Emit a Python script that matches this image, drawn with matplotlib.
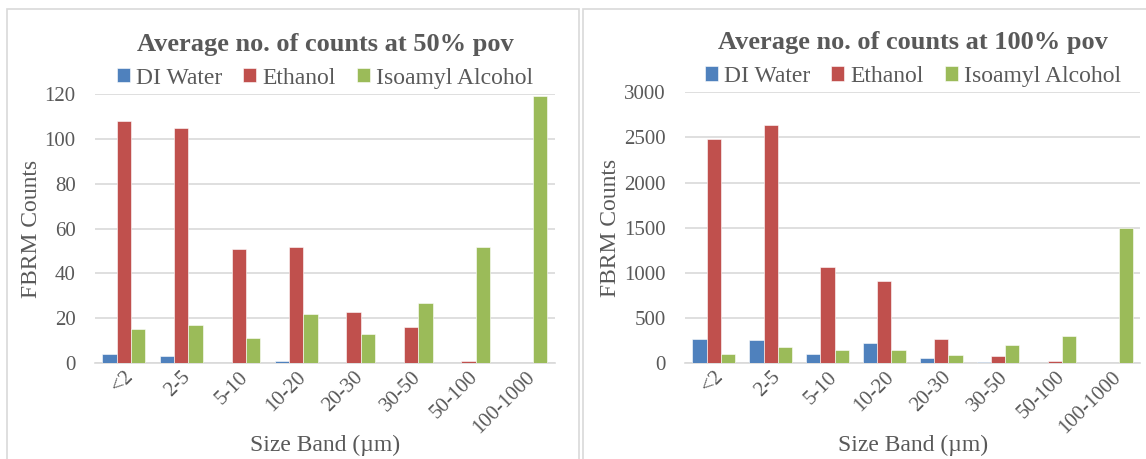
import matplotlib.pyplot as plt
import numpy as np
from matplotlib.patches import Rectangle

plt.rcParams['font.family'] = ['Liberation Serif', 'DejaVu Serif']

bands = ['<2', '2-5', '5-10', '10-20', '20-30', '30-50', '50-100', '100-1000']
series = ['DI Water', 'Ethanol', 'Isoamyl Alcohol']
COLORS = ['#4F81BD', '#C0504D', '#9BBB59']

# 50% pov
di_50 = [4, 3, 0, 1, 0, 0, 0, 0]
eth_50 = [108, 105, 51, 52, 23, 16, 1, 0]
iso_50 = [15, 17, 11, 22, 13, 27, 52, 119]

# 100% pov
di_100 = [263, 258, 105, 221, 52, 7, 0, 0]
eth_100 = [2480, 2640, 1065, 910, 271, 79, 18, 5]
iso_100 = [105, 180, 142, 150, 94, 195, 297, 1500]

TXT = '#595959'
GRID = '#D9D9D9'


def draw_panel(ax, data, title, ymax, ystep):
    x = np.arange(len(bands))
    w = 0.25
    for i, vals in enumerate(data):
        ax.bar(x + (i - 1) * w, vals, w, color=COLORS[i], edgecolor='white',
               linewidth=0.4, label=series[i], zorder=3)
    ax.set_xlim(-0.5, len(bands) - 0.5)
    ax.set_ylim(0, ymax)
    ax.set_yticks(np.arange(0, ymax + 1, ystep))
    ax.yaxis.grid(True, color=GRID, linewidth=1.2, zorder=0)
    ax.set_axisbelow(True)
    for s in ['top', 'right', 'left']:
        ax.spines[s].set_visible(False)
    ax.spines['bottom'].set_color(GRID)
    ax.spines['bottom'].set_linewidth(1.2)
    ax.tick_params(length=0, colors=TXT, labelsize=15)
    ax.tick_params(axis='y', pad=14)
    ax.set_xticks(x)
    ax.set_xticklabels(bands, rotation=45, ha='right', rotation_mode='anchor')
    ax.set_xlabel('Size Band (\u00b5m)', color=TXT, fontsize=17, va='center')
    ax.xaxis.set_label_coords(0.5, -0.305)
    ax.set_ylabel('FBRM Counts', color=TXT, fontsize=17, labelpad=2)
    ax.set_title(title, color=TXT, fontsize=19, fontweight='bold', pad=31)
    leg = ax.legend(ncol=3, loc='lower center', bbox_to_anchor=(0.5, 0.985),
                    frameon=False, fontsize=17, handlelength=0.55,
                    handleheight=0.55, handletextpad=0.25, columnspacing=0.9,
                    borderaxespad=0)
    for t in leg.get_texts():
        t.set_color(TXT)


fig = plt.figure(figsize=(11.46, 4.59), dpi=100)
fig.add_artist(Rectangle((0.006, -0.01), 0.499, 0.99, transform=fig.transFigure,
                         fill=False, edgecolor=GRID, linewidth=1.2))
fig.add_artist(Rectangle((0.509, -0.01), 0.5, 0.99, transform=fig.transFigure,
                         fill=False, edgecolor=GRID, linewidth=1.2))

ax1 = fig.add_axes([0.083, 0.209, 0.401, 0.586])
draw_panel(ax1, [di_50, eth_50, iso_50], 'Average no. of counts at 50% pov', 120, 20)

ax2 = fig.add_axes([0.598, 0.209, 0.397, 0.590])
draw_panel(ax2, [di_100, eth_100, iso_100], 'Average no. of counts at 100% pov', 3000, 500)

fig.savefig('out.png', dpi=100)
